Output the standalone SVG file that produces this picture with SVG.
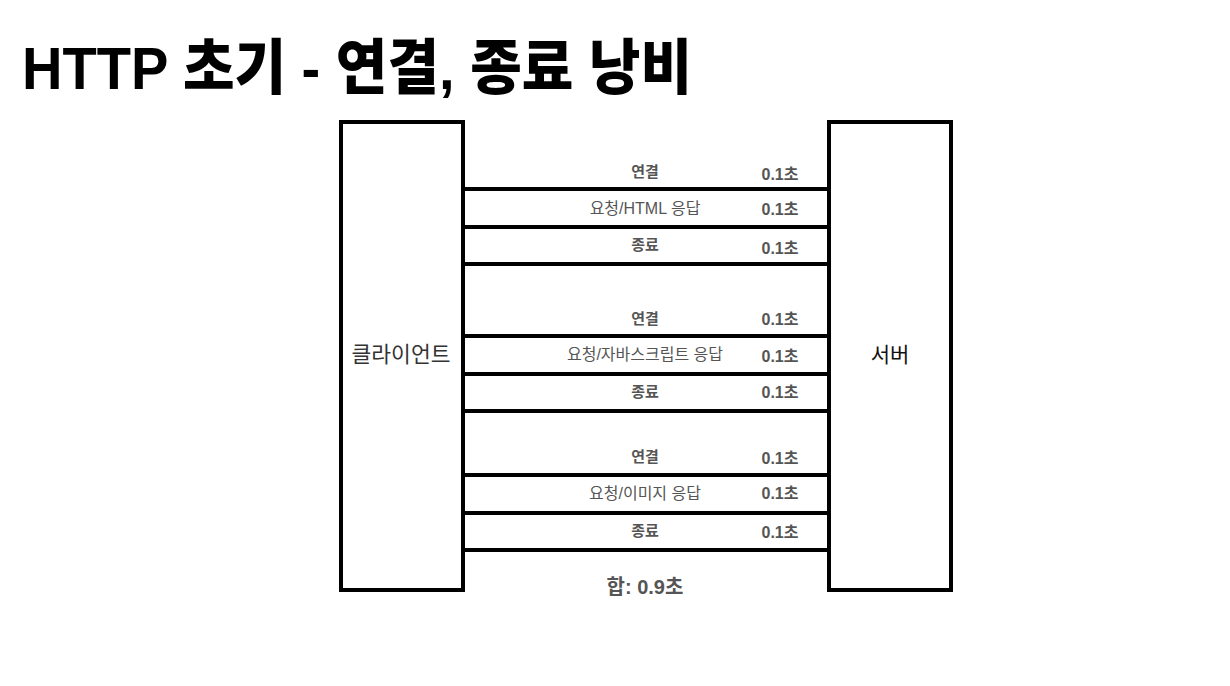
<svg xmlns="http://www.w3.org/2000/svg" width="1230" height="686" viewBox="0 0 1230 686">
<style>
.box{fill:#fff;stroke:#000;stroke-width:4}
.ln{stroke:#000;stroke-width:4}
.t{font-family:"Liberation Sans","Noto Sans CJK KR",sans-serif;fill:#555;text-anchor:middle}
.b{font-weight:bold;font-size:15px}
.n{font-size:16px}
.s{font-family:"Liberation Sans","Noto Sans CJK KR",sans-serif;font-weight:bold;font-size:16px;fill:#555;text-anchor:middle}
</style>
<rect width="1230" height="686" fill="#fff"/>
<text x="22" y="89" font-family="Liberation Sans,'Noto Sans CJK KR',sans-serif" font-weight="900" font-size="60" fill="#000" textLength="670" lengthAdjust="spacingAndGlyphs">HTTP 초기 - 연결, 종료 낭비</text>
<g id="client">
<rect class="box" x="341" y="122" width="122" height="468"/>
<text x="401" y="362" font-family="Liberation Sans,'Noto Sans CJK KR',sans-serif" font-size="21.5" fill="#333" text-anchor="middle">클라이언트</text>
</g>
<g id="server">
<rect class="box" x="829" y="122" width="122" height="468"/>
<text x="890" y="362" font-family="Liberation Sans,'Noto Sans CJK KR',sans-serif" font-size="21" fill="#111" text-anchor="middle">서버</text>
</g>
<g id="connectors">
<line class="ln" x1="463" y1="189" x2="829" y2="189"/>
<line class="ln" x1="463" y1="227" x2="829" y2="227"/>
<line class="ln" x1="463" y1="264" x2="829" y2="264"/>
<line class="ln" x1="463" y1="336" x2="829" y2="336"/>
<line class="ln" x1="463" y1="374" x2="829" y2="374"/>
<line class="ln" x1="463" y1="411" x2="829" y2="411"/>
<line class="ln" x1="463" y1="475" x2="829" y2="475"/>
<line class="ln" x1="463" y1="513" x2="829" y2="513"/>
<line class="ln" x1="463" y1="550" x2="829" y2="550"/>
</g>
<g id="labels">
<text class="t b" x="645" y="177">연결</text>
<text class="s" x="780" y="180">0.1초</text>
<text class="t n" x="645" y="214">요청/HTML 응답</text>
<text class="s" x="780" y="215">0.1초</text>
<text class="t b" x="645" y="250">종료</text>
<text class="s" x="780" y="254">0.1초</text>

<text class="t b" x="645" y="324">연결</text>
<text class="s" x="780" y="325">0.1초</text>
<text class="t n" x="645" y="360">요청/자바스크립트 응답</text>
<text class="s" x="780" y="362">0.1초</text>
<text class="t b" x="645" y="397">종료</text>
<text class="s" x="780" y="398">0.1초</text>

<text class="t b" x="645" y="462">연결</text>
<text class="s" x="780" y="464">0.1초</text>
<text class="t n" x="645" y="499">요청/이미지 응답</text>
<text class="s" x="780" y="499">0.1초</text>
<text class="t b" x="645" y="536">종료</text>
<text class="s" x="780" y="538">0.1초</text>

<text class="s" x="645" y="594" style="font-size:20px">합: 0.9초</text>
</g>
</svg>
